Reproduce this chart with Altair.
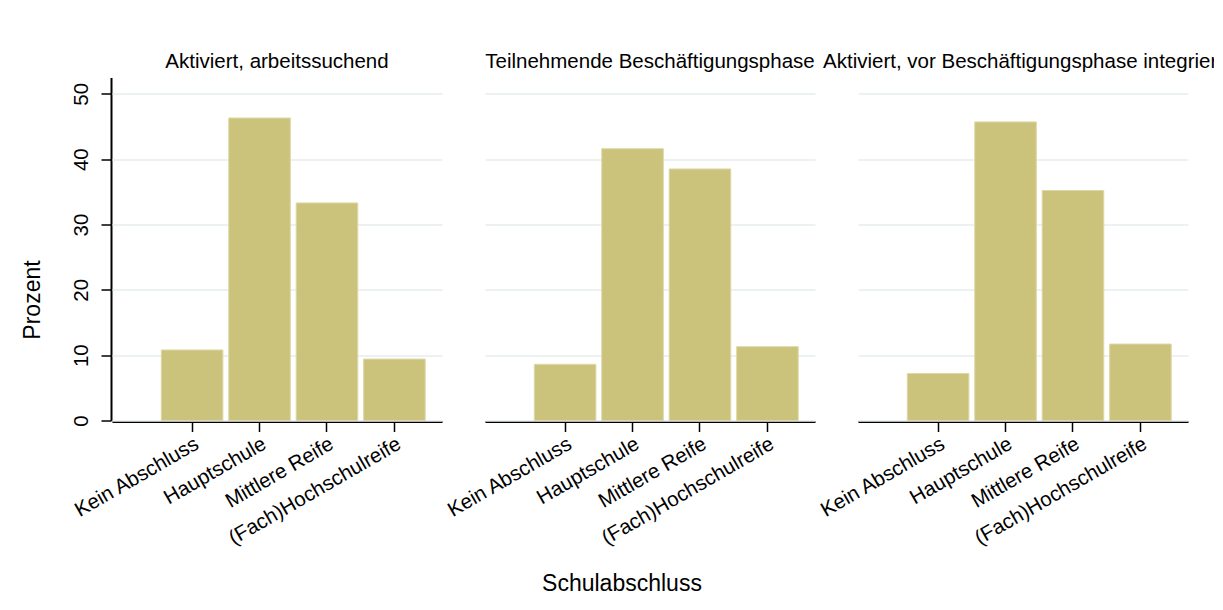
import altair as alt
import pandas as pd

groups = [
    "Aktiviert, arbeitssuchend",
    "Teilnehmende Beschäftigungsphase",
    "Aktiviert, vor Beschäftigungsphase integriert",
]
categories = ["Kein Abschluss", "Hauptschule", "Mittlere Reife", "(Fach)Hochschulreife"]
werte_aktiviert = [10.8, 46.3, 33.3, 9.4]
werte_teilnehmend = [8.6, 41.6, 38.5, 11.3]
werte_integriert = [7.2, 45.7, 35.2, 11.7]
y_ticks = [0, 10, 20, 30, 40, 50]

rows = []
for g, vals in zip(groups, [werte_aktiviert, werte_teilnehmend, werte_integriert]):
    for c, v in zip(categories, vals):
        rows.append({"Gruppe": g, "Schulabschluss": c, "Prozent": v})
df = pd.DataFrame(rows)

FONT = "Liberation Sans"

base = alt.Chart(df).mark_bar(fill="#cbc37b", stroke="#ddd8a6", strokeWidth=1).encode(
    x=alt.X(
        "Schulabschluss:N",
        sort=categories,
        title=None,
        scale=alt.Scale(paddingInner=0.087, paddingOuter=0.49, align=0.746),
        axis=alt.Axis(
            labelAngle=330, labelFontSize=20.5, labelFont=FONT, labelColor="black",
            labelLimit=400,
            tickSize=10, tickWidth=1.5, tickColor="black",
            domainWidth=2, domainColor="black", labelPadding=2, grid=False,
        ),
    ),
    y=alt.Y(
        "Prozent:Q",
        title="Prozent",
        scale=alt.Scale(domain=[0, 52.5], nice=False),
        axis=alt.Axis(
            values=y_ticks, labelAngle=270, labelFontSize=20.5, labelFont=FONT,
            labelColor="black", tickSize=10, tickWidth=1.5, tickColor="black",
            domainWidth=2, domainColor="black", labelPadding=10,
            titleFontSize=23, titleFont=FONT, titleFontWeight="normal",
            titleColor="black", titlePadding=27, titleY=222,
            grid=True, gridColor="#e6ecf1", gridWidth=1.5,
        ),
    ),
).properties(width=330, height=343)

chart = base.facet(
    column=alt.Column(
        "Gruppe:N",
        sort=groups,
        header=alt.Header(
            title=None, labelFontSize=20.5, labelFont=FONT, labelColor="black",
            labelPadding=4,
        ),
    ),
    spacing=41,
).properties(
    title=alt.TitleParams(
        "Schulabschluss", orient="bottom", anchor="middle", fontSize=23,
        font=FONT, fontWeight="normal", color="black", offset=24,
    ),
    padding={"left": 13, "top": 43.5, "right": -9, "bottom": 5},
).configure(background="white").configure_view(stroke="transparent")

chart.save("out.html", embed_options={"renderer": "svg", "actions": False})
